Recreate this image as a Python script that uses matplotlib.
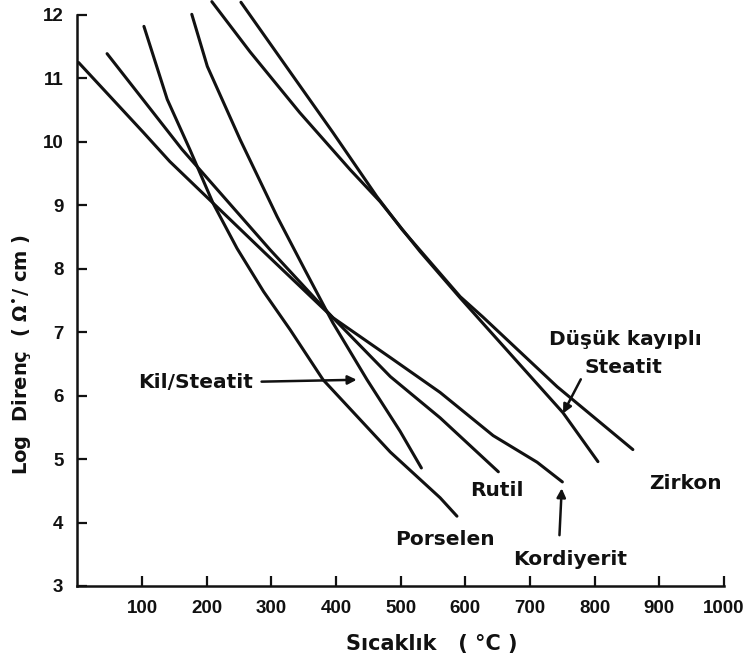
import matplotlib
matplotlib.use('Agg')
import matplotlib.pyplot as plt

plt.rcParams['font.family'] = ['DejaVu Sans']
plt.rcParams['font.weight'] = 'bold'
plt.rcParams['mathtext.default'] = 'regular'

INK = '#111111'
TICK_FONT = ['Liberation Sans', 'DejaVu Sans']

# === data (x: °C, y: log resistivity) ===
porselen_x = [103, 139, 174, 210, 247, 288, 329, 380, 484, 561, 587]
porselen_y = [11.82, 10.67, 9.88, 9.03, 8.32, 7.64, 7.04, 6.25, 5.11, 4.39, 4.10]

kil_x = [177, 201, 252, 309, 352, 395, 448, 499, 532]
kil_y = [12.01, 11.19, 10.03, 8.82, 7.98, 7.15, 6.25, 5.44, 4.86]

rutil_x = [46, 162, 298, 395, 484, 561, 651]
rutil_y = [11.39, 9.88, 8.30, 7.23, 6.30, 5.65, 4.80]

kordiyerit_x = [2, 102, 143, 290, 395, 484, 561, 643, 711, 750]
kordiyerit_y = [11.25, 10.15, 9.69, 8.25, 7.23, 6.60, 6.05, 5.37, 4.95, 4.64]

dusuk_x = [208, 267, 344, 422, 468, 530, 592, 751, 805]
dusuk_y = [12.21, 11.42, 10.46, 9.56, 9.06, 8.27, 7.54, 5.73, 4.96]

zirkon_x = [253, 334, 395, 463, 502, 592, 627, 742, 859]
zirkon_y = [12.20, 11.03, 10.15, 9.14, 8.62, 7.56, 7.24, 6.14, 5.15]

x_ticks = [100, 200, 300, 400, 500, 600, 700, 800, 900, 1000]
y_ticks = [3, 4, 5, 6, 7, 8, 9, 10, 11, 12]


def main():
    fig = plt.figure(figsize=(7.5, 6.68), dpi=100)
    ax = fig.add_axes([0.1031, 0.1228, 0.8623, 0.8548])

    for xs, ys in [(porselen_x, porselen_y), (kil_x, kil_y),
                   (rutil_x, rutil_y), (kordiyerit_x, kordiyerit_y),
                   (dusuk_x, dusuk_y), (zirkon_x, zirkon_y)]:
        ax.plot(xs, ys, color=INK, lw=2.2, solid_capstyle='round',
                solid_joinstyle='round', clip_on=False)

    ax.set_xlim(0, 1000)
    ax.set_ylim(3, 12)
    ax.set_xticks(x_ticks)
    ax.set_yticks(y_ticks)

    # range frame: only left + bottom, ticks pointing inward
    ax.spines['top'].set_visible(False)
    ax.spines['right'].set_visible(False)
    for s in ('left', 'bottom'):
        ax.spines[s].set_linewidth(1.8)
        ax.spines[s].set_color(INK)
    ax.tick_params(direction='in', length=7, width=1.6, colors=INK,
                   labelsize=13.5)
    ax.tick_params(axis='x', pad=10)
    ax.tick_params(axis='y', pad=10)
    for lab in ax.get_xticklabels() + ax.get_yticklabels():
        lab.set_family(TICK_FONT)
        lab.set_fontweight('bold')

    ax.set_xlabel('Sıcaklık   ( °C )', fontsize=15, fontweight='bold', color=INK)
    ax.xaxis.set_label_coords(0.548, -0.084)
    ax.set_ylabel('Log  Direnç  ( Ω$^{•}$/ cm )', fontsize=14,
                  fontweight='bold', color=INK)
    ax.yaxis.set_label_coords(-0.068, 0.405)

    # labels + arrows
    fs = 14.5
    arrow = dict(arrowstyle='-|>', color=INK, lw=1.8, mutation_scale=13)
    ax.annotate('Kil/Steatit', xy=(432, 6.25), xytext=(272, 6.20),
                ha='right', va='center', fontsize=fs, color=INK,
                arrowprops=dict(arrow, shrinkA=4, shrinkB=0))
    ax.text(649, 4.50, 'Rutil', ha='center', va='center', fontsize=fs, color=INK)
    ax.text(569, 3.74, 'Porselen', ha='center', va='center', fontsize=fs, color=INK)
    ax.annotate('Kordiyerit', xy=(749, 4.54), xytext=(762, 3.41),
                ha='center', va='center', fontsize=fs, color=INK,
                arrowprops=dict(arrow, shrinkA=9, shrinkB=0, relpos=(0.4, 1.0)))
    ax.text(941, 4.61, 'Zirkon', ha='center', va='center', fontsize=fs, color=INK)
    ax.text(847, 6.88, 'Düşük kayıplı', ha='center', va='center', fontsize=fs, color=INK)
    ax.annotate('Steatit', xy=(751, 5.72), xytext=(845, 6.44),
                ha='center', va='center', fontsize=fs, color=INK,
                arrowprops=dict(arrow, shrinkA=2, shrinkB=0, relpos=(0.0, 0.3)))

    fig.savefig('out.png', dpi=100, facecolor='white')


if __name__ == '__main__':
    main()
